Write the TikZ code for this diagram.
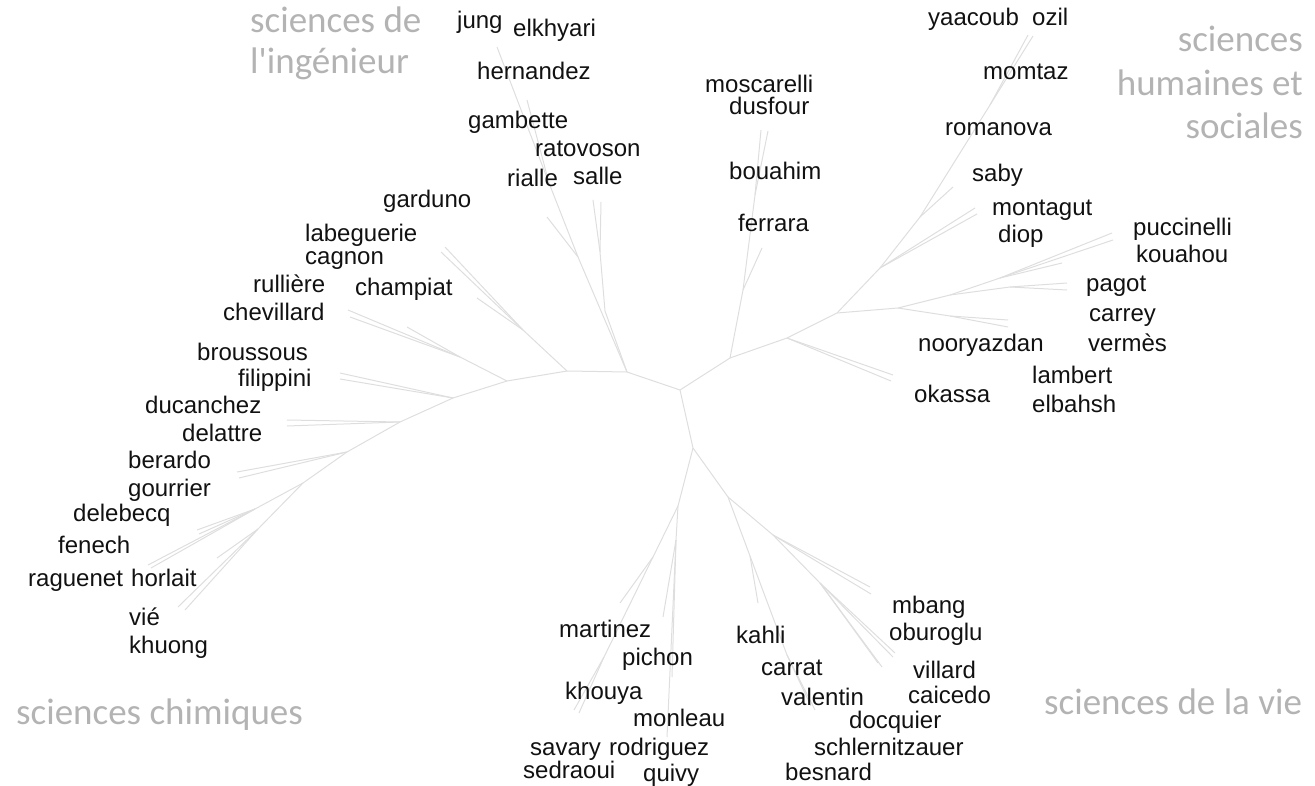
\documentclass[tikz,border=0pt]{standalone}
\usepackage{fontspec}
\usepackage{xcolor}
\newfontfamily\leaffont{Liberation Sans}
\newfontfamily\fieldfont{Carlito}
\definecolor{ink}{HTML}{111111}
\definecolor{twig}{HTML}{DEDEDE}
\definecolor{fieldgray}{HTML}{B3B3B3}

\begin{document}
\begin{tikzpicture}[x=1pt, y=-1pt, every node/.style={inner sep=0pt},
  leaf/.style={font=\leaffont\fontsize{24}{28}\selectfont, text=ink, anchor=base west},
  field/.style={font=\fieldfont\fontsize{37}{41}\selectfont, text=fieldgray},
  limb/.style={draw=twig, line width=1pt, line join=round}]
% 1. page frame (pixel grid of the reference, y pointing down)
\useasboundingbox (0,0) rectangle (1315,786);

% 2. branch points of the tree
\coordinate (root) at (680,390);
\coordinate (nA) at (627,372);  \coordinate (nB) at (730,358);  \coordinate (nD) at (693,448);
% left part
\coordinate (nA1) at (567,371); \coordinate (nS1) at (605,311); \coordinate (nS2) at (600,252);
\coordinate (nG1) at (578,257); \coordinate (nG2) at (549,183); \coordinate (nL1) at (523,330);
\coordinate (nP1) at (507,381); \coordinate (nC1) at (460,357); \coordinate (nP2) at (453,398);
\coordinate (nP3) at (400,422); \coordinate (nP4) at (347,452); \coordinate (nP5) at (303,483);
\coordinate (nQ1) at (255,509); \coordinate (nQ2) at (258,529);
% right part
\coordinate (nM1) at (743,290); \coordinate (nM2) at (755,195); \coordinate (nB2) at (787,338);
\coordinate (nB3) at (837,313); \coordinate (nH1) at (880,268); \coordinate (nH2) at (920,217);
\coordinate (nH3) at (990,105); \coordinate (nK1) at (898,308); \coordinate (nK2) at (950,295);
\coordinate (nK3) at (1000,278); \coordinate (nK4) at (1010,287); \coordinate (nK5) at (950,316);
% lower part
\coordinate (nE1) at (678,506); \coordinate (nE2) at (653,557); \coordinate (nE3) at (604,657);
\coordinate (nE4) at (676,540); \coordinate (nF1) at (728,497); \coordinate (nF2) at (750,556);
\coordinate (nF3) at (787,655); \coordinate (nF4) at (773,535); \coordinate (nF5) at (820,583);

% 3. branch tips
\coordinate (tSa) at (593,200); \coordinate (tSb) at (601,202); \coordinate (tRi) at (547,217);
\coordinate (tHe) at (527,100); \coordinate (tJu) at (497,47);  \coordinate (tCh) at (477,298);
\coordinate (tLa) at (445,247); \coordinate (tLb) at (441,252); \coordinate (tCva) at (348,310);
\coordinate (tCvb) at (350,317); \coordinate (tRu) at (407,327); \coordinate (tFia) at (340,373);
\coordinate (tFib) at (340,379); \coordinate (tDua) at (287,420); \coordinate (tDub) at (287,426);
\coordinate (tBea) at (237,472); \coordinate (tBeb) at (239,478); \coordinate (tDea) at (197,530);
\coordinate (tDeb) at (199,534); \coordinate (tFea) at (148,565); \coordinate (tFeb) at (151,568);
\coordinate (tHo) at (217,558);  \coordinate (tVia) at (178,607); \coordinate (tVib) at (185,610);
\coordinate (tFe) at (762,248);  \coordinate (tMoa) at (761,130); \coordinate (tMob) at (768,131);
\coordinate (tOka) at (893,375); \coordinate (tOkb) at (891,381); \coordinate (tMna) at (975,208);
\coordinate (tMnb) at (977,214); \coordinate (tSab) at (953,187); \coordinate (tOza) at (1033,36);
\coordinate (tOzb) at (1028,35); \coordinate (tPua) at (1112,233); \coordinate (tPub) at (1113,240);
\coordinate (tPk) at (1062,263); \coordinate (tPaa) at (1067,283); \coordinate (tPab) at (1067,290);
\coordinate (tCaa) at (1008,320); \coordinate (tCab) at (1008,327);
\coordinate (tMa) at (620,603);  \coordinate (tKha) at (579,713); \coordinate (tKhb) at (574,710);
\coordinate (tPi) at (663,617);  \coordinate (tRoa) at (672,677); \coordinate (tRob) at (667,737);
\coordinate (tKa) at (758,603);  \coordinate (tVaa) at (815,710); \coordinate (tVab) at (811,706);
\coordinate (tMba) at (870,587); \coordinate (tMbb) at (871,594); \coordinate (tVla) at (882,667);
\coordinate (tVlb) at (878,663); \coordinate (tOba) at (895,653); \coordinate (tObb) at (893,657);

% 4. branches
\draw[limb] (nA) -- (root) -- (nB);
\draw[limb] (root) -- (nD);
\draw[limb] (nA) -- (nA1);
\draw[limb] (nA) -- (nS1) -- (nS2) -- (tSa);
\draw[limb] (nS2) -- (tSb);
\draw[limb] (nA) -- (nG1) -- (tRi);
\draw[limb] (nG1) -- (nG2) -- (tJu);
\draw[limb] (nG2) -- (tHe);
\draw[limb] (nA1) -- (nL1) -- (tCh);
\draw[limb] (nL1) -- (tLa);
\draw[limb] (nL1) -- (tLb);
\draw[limb] (nA1) -- (nP1) -- (nP2) -- (nP3) -- (nP4) -- (nP5);
\draw[limb] (nP1) -- (nC1) -- (tCva);
\draw[limb] (nC1) -- (tCvb);
\draw[limb] (nC1) -- (tRu);
\draw[limb] (nP2) -- (tFia);
\draw[limb] (nP2) -- (tFib);
\draw[limb] (nP3) -- (tDua);
\draw[limb] (nP3) -- (tDub);
\draw[limb] (nP4) -- (tBea);
\draw[limb] (nP4) -- (tBeb);
\draw[limb] (nP5) -- (nQ1) -- (tDea);
\draw[limb] (nQ1) -- (tDeb);
\draw[limb] (nQ1) -- (tFea);
\draw[limb] (nQ1) -- (tFeb);
\draw[limb] (nP5) -- (nQ2) -- (tVia);
\draw[limb] (nQ2) -- (tVib);
\draw[limb] (nQ2) -- (tHo);
\draw[limb] (nB) -- (nM1) -- (tFe);
\draw[limb] (nM1) -- (nM2) -- (tMoa);
\draw[limb] (nM2) -- (tMob);
\draw[limb] (nB) -- (nB2) -- (tOka);
\draw[limb] (nB2) -- (tOkb);
\draw[limb] (nB2) -- (nB3) -- (nH1) -- (tMna);
\draw[limb] (nH1) -- (tMnb);
\draw[limb] (nH1) -- (nH2) -- (tSab);
\draw[limb] (nH2) -- (nH3) -- (tOza);
\draw[limb] (nH3) -- (tOzb);
\draw[limb] (nB3) -- (nK1) -- (nK2) -- (nK3) -- (tPua);
\draw[limb] (nK3) -- (tPub);
\draw[limb] (nK3) -- (tPk);
\draw[limb] (nK2) -- (nK4) -- (tPaa);
\draw[limb] (nK4) -- (tPab);
\draw[limb] (nK1) -- (nK5) -- (tCaa);
\draw[limb] (nK5) -- (tCab);
\draw[limb] (nD) -- (nE1) -- (nE2) -- (tMa);
\draw[limb] (nE2) -- (nE3) -- (tKha);
\draw[limb] (nE3) -- (tKhb);
\draw[limb] (nE1) -- (nE4) -- (tPi);
\draw[limb] (nE4) -- (tRoa);
\draw[limb] (nE4) -- (tRob);
\draw[limb] (nD) -- (nF1) -- (nF2) -- (tKa);
\draw[limb] (nF2) -- (nF3) -- (tVaa);
\draw[limb] (nF3) -- (tVab);
\draw[limb] (nF1) -- (nF4) -- (tMba);
\draw[limb] (nF4) -- (tMbb);
\draw[limb] (nF4) -- (nF5) -- (tVla);
\draw[limb] (nF5) -- (tVlb);
\draw[limb] (nF5) -- (tOba);
\draw[limb] (nF5) -- (tObb);

% 5. names, upper left
\node[leaf] (jung) at (457,29) {jung};
\node[leaf] (elkhyari) at (513,37) {elkhyari};
\node[leaf] (hernandez) at (477,80) {hernandez};
\node[leaf] (gambette) at (468,129) {gambette};
\node[leaf] (ratovoson) at (535,157) {ratovoson};
\node[leaf] (rialle) at (507,187) {rialle};
\node[leaf] (salle) at (573,185) {salle};
\node[leaf] (garduno) at (383,208) {garduno};
\node[leaf] (labeguerie) at (305,242) {labeguerie};
\node[leaf] (cagnon) at (305,265) {cagnon};
\node[leaf] (rulliere) at (253,293) {rullière};
\node[leaf] (champiat) at (355,296) {champiat};
\node[leaf] (chevillard) at (223,321) {chevillard};
% names, left
\node[leaf] (broussous) at (197,360) {broussous};
\node[leaf] (filippini) at (238,387) {filippini};
\node[leaf] (ducanchez) at (145,413) {ducanchez};
\node[leaf] (delattre) at (182,441) {delattre};
\node[leaf] (berardo) at (128,468) {berardo};
\node[leaf] (gourrier) at (128,496) {gourrier};
\node[leaf] (delebecq) at (73,521) {delebecq};
\node[leaf] (fenech) at (58,553) {fenech};
\node[leaf] (raguenet) at (28,586) {raguenet};
\node[leaf] (horlait) at (131,586) {horlait};
\node[leaf] (vie) at (129,625) {vié};
\node[leaf] (khuong) at (129,653) {khuong};
% names, bottom
\node[leaf] (martinez) at (559,637) {martinez};
\node[leaf] (pichon) at (622,665) {pichon};
\node[leaf] (khouya) at (565,699) {khouya};
\node[leaf] (monleau) at (633,726) {monleau};
\node[leaf] (savary) at (530,755) {savary};
\node[leaf] (rodriguez) at (609,755) {rodriguez};
\node[leaf] (sedraoui) at (523,778) {sedraoui};
\node[leaf] (quivy) at (643,781) {quivy};
\node[leaf] (kahli) at (736,643) {kahli};
\node[leaf] (carrat) at (761,675) {carrat};
\node[leaf] (valentin) at (781,705) {valentin};
\node[leaf] (docquier) at (849,728) {docquier};
\node[leaf] (schlernitzauer) at (814,755) {schlernitzauer};
\node[leaf] (besnard) at (785,780) {besnard};
\node[leaf] (mbang) at (892,613) {mbang};
\node[leaf] (oburoglu) at (889,640) {oburoglu};
\node[leaf] (villard) at (913,678) {villard};
\node[leaf] (caicedo) at (908,703) {caicedo};
% names, right
\node[leaf] (moscarelli) at (705,93) {moscarelli};
\node[leaf] (dusfour) at (729,115) {dusfour};
\node[leaf] (bouahim) at (729,180) {bouahim};
\node[leaf] (ferrara) at (738,232) {ferrara};
\node[leaf] (yaacoub) at (928,26) {yaacoub};
\node[leaf] (ozil) at (1032,26) {ozil};
\node[leaf] (momtaz) at (983,80) {momtaz};
\node[leaf] (romanova) at (945,136) {romanova};
\node[leaf] (saby) at (972,182) {saby};
\node[leaf] (montagut) at (992,216) {montagut};
\node[leaf] (diop) at (998,243) {diop};
\node[leaf] (puccinelli) at (1133,236) {puccinelli};
\node[leaf] (kouahou) at (1136,263) {kouahou};
\node[leaf] (pagot) at (1086,292) {pagot};
\node[leaf] (carrey) at (1089,322) {carrey};
\node[leaf] (vermes) at (1088,352) {vermès};
\node[leaf] (nooryazdan) at (918,352) {nooryazdan};
\node[leaf] (lambert) at (1032,383) {lambert};
\node[leaf] (elbahsh) at (1032,412) {elbahsh};
\node[leaf] (okassa) at (914,402) {okassa};

% 6. field labels in grey
\node[field, anchor=base west] (eng1) at (250,33) {sciences de};
\node[field, anchor=base west] (eng2) at (250,74) {l'ingénieur};
\node[field, anchor=base east] (hum1) at (1303,52) {sciences};
\node[field, anchor=base east] (hum2) at (1303,96) {humaines et};
\node[field, anchor=base east] (hum3) at (1303,139) {sociales};
\node[field, anchor=base west] (chem) at (16,724) {sciences chimiques};
\node[field, anchor=base west] (life) at (1044,714) {sciences de la vie};
\end{tikzpicture}
\end{document}
